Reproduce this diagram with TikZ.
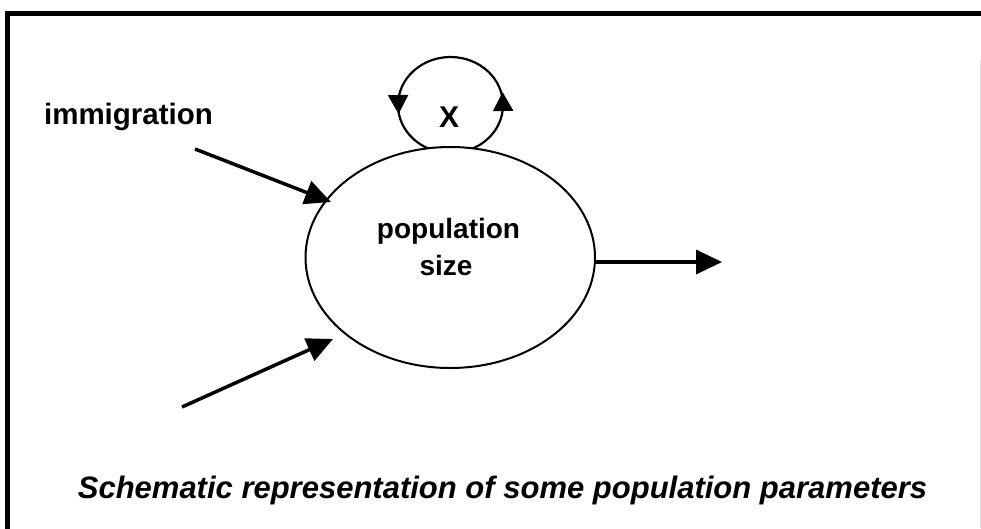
\documentclass[tikz,border=0pt]{standalone}
\usepackage{fontspec}
\setmainfont{Liberation Sans}
\usetikzlibrary{arrows.meta,shapes.geometric}
\tikzset{
  bigarrow/.style={line width=3.5pt,-{Triangle[length=26pt,width=24pt]}},
  looptip/.style={line width=2.2pt,-{Triangle[length=19pt,width=20pt]}},
  loopline/.style={line width=2.2pt},
  lbl/.style={inner sep=0pt,anchor=base,font=\bfseries\fontsize{28.5}{34}\selectfont},
  frameline/.style={line width=5pt}
}
\begin{document}
\begin{tikzpicture}[x=1pt,y=-1pt]
\useasboundingbox (0,0) rectangle (981,528);
\clip (0,0) rectangle (981,528);
% frame
\draw[frameline] (7,560) -- (7,13) -- (1000,13);
\draw[gray!25,line width=0.6pt] (980.7,60) -- (980.7,528);
% loop
\draw[loopline] (450.5,105) ellipse [x radius=52.5, y radius=48];
\coordinate (la) at (398.2,98);
\coordinate (lb) at (398.6,114);
\coordinate (ra) at (503,108);
\coordinate (rb) at (502.6,92);
\draw[looptip] (la) -- (lb);
\draw[looptip] (ra) -- (rb);
\node[lbl,font=\bfseries\fontsize{30}{34}\selectfont] (x) at (449,127) {X};
% main ellipse
\node[ellipse,draw,fill=white,line width=2pt,inner sep=0pt,
      minimum width=289.5pt,minimum height=221pt] (e) at (450.25,257.5) {};
\node[lbl,font=\bfseries\fontsize{28}{34}\selectfont] (pop) at (448.5,238) {population};
\node[lbl,font=\bfseries\fontsize{28}{34}\selectfont] (size) at (446,275) {size};
% arrows
\node[lbl,font=\bfseries\fontsize{29.5}{34}\selectfont] (imm) at (128.5,124) {immigration};
\coordinate (s1) at (195,149);
\coordinate (t1) at (331,202);
\coordinate (s2) at (182,407);
\coordinate (t2) at (333,339);
\coordinate (s3) at (595,262);
\coordinate (t3) at (722,262);
\draw[bigarrow] (s1) -- (t1);
\draw[bigarrow] (s2) -- (t2);
\draw[bigarrow] (s3) -- (t3);
% caption
\node[lbl,font=\bfseries\itshape\fontsize{31}{36}\selectfont] (cap) at (502.5,498)
  {Schematic representation of some population parameters};
\end{tikzpicture}
\end{document}
